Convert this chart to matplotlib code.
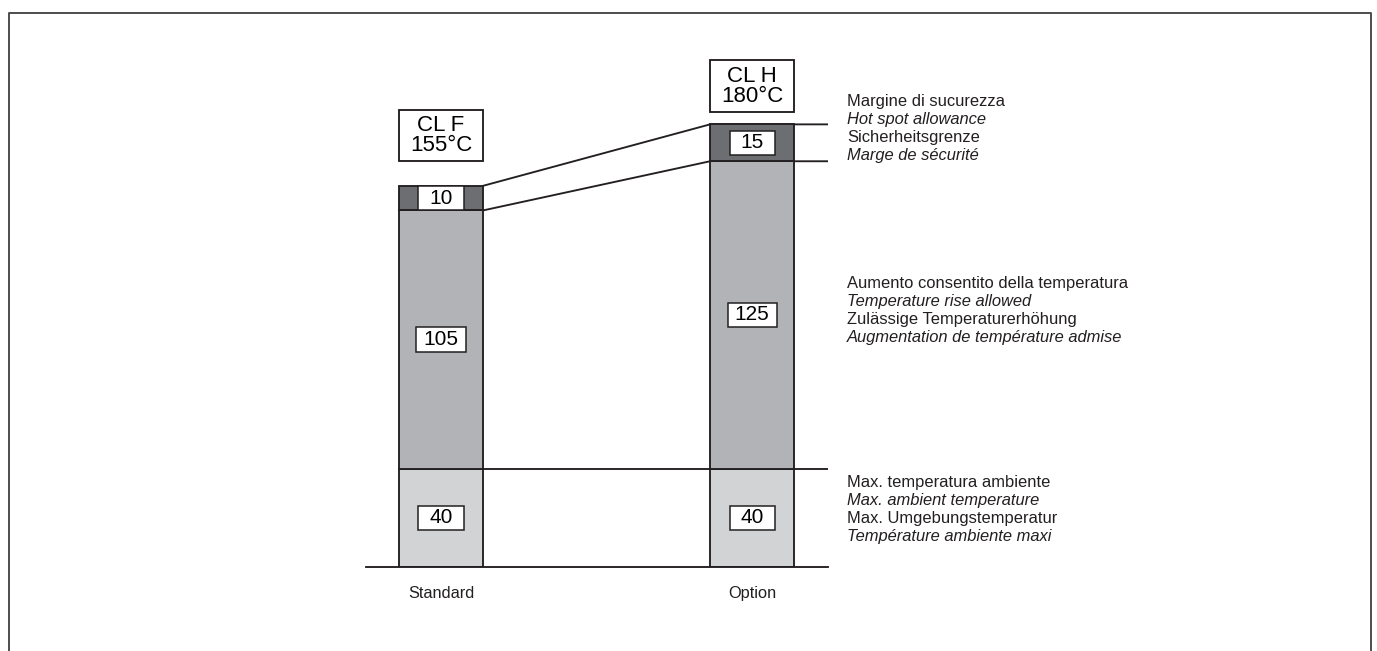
# plot.py
# Temperaturklassen: Standard (CL F) gegen Option (CL H)

import matplotlib.pyplot as plt
from matplotlib.patches import Rectangle
from matplotlib.lines import Line2D

plt.rcParams['font.family'] = ['Liberation Sans', 'DejaVu Sans']

# -----------------Daten
categories = ['Standard', 'Option']
classes = ['CL F\n155°C', 'CL H\n180°C']
ambient = [40, 40]      # Max. Umgebungstemperatur
rise = [105, 125]       # zulässige Temperaturerhöhung
hotspot = [10, 15]      # Sicherheitsgrenze

text_hotspot = ['Margine di sucurezza', 'Hot spot allowance',
                'Sicherheitsgrenze', 'Marge de sécurité']
text_rise = ['Aumento consentito della temperatura', 'Temperature rise allowed',
             'Zulässige Temperaturerhöhung', 'Augmentation de température admise']
text_ambient = ['Max. temperatura ambiente', 'Max. ambient temperature',
                'Max. Umgebungstemperatur', 'Température ambiente maxi']

# -----------------Stil
C_LIGHT = '#d1d3d4'
C_MID = '#b1b3b6'
C_DARK = '#6d6e71'
C_EDGE = '#231f20'
W = 0.27  # Balkenbreite
LW = 1.35

fig = plt.figure(figsize=(13.77, 6.51), dpi=100)
ax = fig.add_axes([366 / 1377, 84 / 651, 462 / 1377, 541 / 651])
ax.set_xlim(-0.241, 1.244)
ax.set_ylim(0, 220)
ax.axis('off')

x = list(range(len(categories)))
bottom2 = [a + r for a, r in zip(ambient, rise)]
total = [b + h for b, h in zip(bottom2, hotspot)]

# Verbindungslinien (unter den Balken)
xr = x[0] + W / 2
xl = x[1] - W / 2
xend = ax.get_xlim()[1]
ax.plot([xr, xend], [ambient[0], ambient[1]], color=C_EDGE, lw=LW, zorder=1)
ax.plot([xr, xl, xend], [total[0], total[1], total[1]], color=C_EDGE, lw=LW, zorder=1)
ax.plot([xr, xl, xend], [bottom2[0], bottom2[1], bottom2[1]], color=C_EDGE, lw=LW, zorder=1)
ax.plot([ax.get_xlim()[0], xend], [0, 0], color=C_EDGE, lw=LW, zorder=3, clip_on=False)

# Balken
ax.bar(x, ambient, width=W, color=C_LIGHT, edgecolor=C_EDGE, lw=LW, zorder=2)
ax.bar(x, rise, width=W, bottom=ambient, color=C_MID, edgecolor=C_EDGE, lw=LW, zorder=2)
ax.bar(x, hotspot, width=W, bottom=bottom2, color=C_DARK, edgecolor=C_EDGE, lw=LW, zorder=2)


def value_box(xc, yc, val):
    s = str(val)
    bw = 0.145 if len(s) < 3 else 0.158
    ax.add_patch(Rectangle((xc - bw / 2, yc - 4.9), bw, 9.8, facecolor='white',
                           edgecolor=C_EDGE, lw=1.1, zorder=3))
    ax.text(xc, yc, s, ha='center', va='center', fontsize=15, zorder=4)


for i in x:
    value_box(i, ambient[i] / 2, ambient[i])
    value_box(i, ambient[i] + rise[i] / 2, rise[i])
    value_box(i, bottom2[i] + hotspot[i] / 2, hotspot[i])

# Klassenkästen
gaps = [10, 5]
for i in x:
    y0 = total[i] + gaps[i]
    ax.add_patch(Rectangle((i - W / 2, y0), W, 21, facecolor='white',
                           edgecolor=C_EDGE, lw=LW, zorder=3, clip_on=False))
    ax.text(i, y0 + 10.5, classes[i], ha='center', va='center', fontsize=16,
            linespacing=0.95, zorder=4, clip_on=False)
    ax.annotate(categories[i], (i, 0), xytext=(0, -19), textcoords='offset points',
                ha='center', va='center', fontsize=11.8, color='#231f20')

# Beschriftungen rechts
groups = [(text_hotspot, bottom2[1] + hotspot[1] / 2 + 6),
          (text_rise, ambient[1] + rise[1] / 2 + 2),
          (text_ambient, ambient[1] / 2 + 3.5)]
for lines, yc in groups:
    for k, t in enumerate(lines):
        off = (1.5 - k) * 12.96
        ax.annotate(t, (1.305, yc), xytext=(0, off), textcoords='offset points',
                    ha='left', va='center', fontsize=11.9, color='#231f20',
                    style='italic' if k % 2 else 'normal', annotation_clip=False)

# Rahmen
fx0, fx1, fy = 8.5 / 1377, 1370.5 / 1377, 1 - 13 / 651
fig.add_artist(Line2D([fx0, fx0, fx1, fx1], [0, fy, fy, 0], transform=fig.transFigure,
                      color='#4d4d4f', lw=1.4))

fig.savefig('out.png', dpi=100)
